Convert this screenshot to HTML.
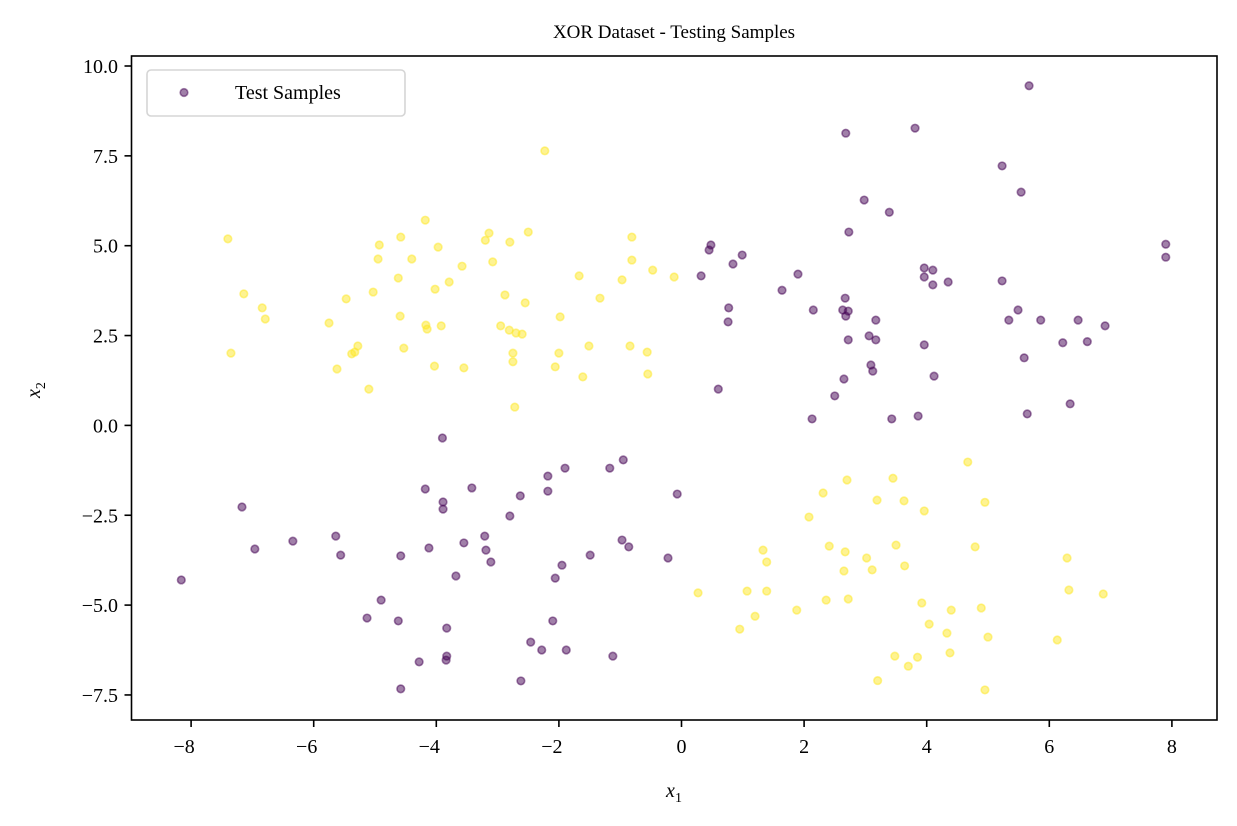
<!DOCTYPE html>
<html><head><meta charset="utf-8"><style>
body{margin:0;background:#fff;}
svg text{font-family:"Liberation Serif","DejaVu Serif",serif;fill:#000;}
</style></head><body>
<svg id="chart" width="1237" height="821" xmlns="http://www.w3.org/2000/svg">
<rect width="1237" height="821" fill="#fff"/>
<text x="674" y="38" font-size="19" text-anchor="middle">XOR Dataset - Testing Samples</text>
<g id="marks"></g>
<g id="axes"></g>
<rect x="131.5" y="56" width="1085.5" height="664" fill="none" stroke="#000" stroke-width="1.6"/>
<g>
<rect x="147" y="70" width="258" height="46" rx="4" fill="#fff" fill-opacity="0.8" stroke="#d5d5d5" stroke-width="1.6"/>
<circle cx="184" cy="92.5" r="3.8" fill="#440154" fill-opacity="0.5" stroke="#440154" stroke-opacity="0.5" stroke-width="1.6"/>
<text x="235" y="99" font-size="20">Test Samples</text>
</g>
<text x="674" y="797" font-size="20" font-style="italic" text-anchor="middle">x<tspan font-size="14" dy="5" font-style="normal">1</tspan></text>
<text transform="translate(40,390) rotate(-90)" font-size="20" font-style="italic" text-anchor="middle">x<tspan font-size="14" dy="5" font-style="normal">2</tspan></text>
</svg>
<script>
const xTicks=[-8,-6,-4,-2,0,2,4,6,8];
const yTicks=[-7.5,-5.0,-2.5,0.0,2.5,5.0,7.5,10.0];
const class0X=[5.67,2.68,3.81,5.23,5.54,2.98,3.39,2.73,0.48,0.45,0.99,0.32,0.84,1.64,1.90,5.23,3.96,3.96,4.10,4.35,4.10,2.67,0.77,0.76,2.15,2.63,2.68,2.72,3.17,5.49,5.34,5.86,6.47,3.17,3.06,2.72,3.96,6.22,6.62,6.91,5.59,3.09,3.12,2.65,0.60,4.12,2.50,2.13,3.43,3.86,5.64,6.34,7.90,7.90,
-8.16,-7.17,-6.96,-6.34,-5.64,-5.56,-4.90,-5.13,-4.62,-4.58,-4.58,-4.28,-4.18,-4.12,-3.90,-3.89,-3.89,-3.84,-3.83,-3.83,-3.68,-3.55,-3.21,-3.19,-3.11,-3.42,-2.80,-2.63,-2.18,-2.18,-1.90,-2.06,-2.10,-1.88,-2.46,-2.28,-2.62,-1.95,-1.49,-1.17,-1.12,-0.95,-0.97,-0.86,-0.22,-0.07];
const class0Y=[9.45,8.13,8.27,7.22,6.49,6.27,5.93,5.38,5.02,4.88,4.74,4.16,4.49,3.76,4.21,4.02,4.38,4.13,4.32,3.99,3.91,3.54,3.27,2.88,3.21,3.21,3.04,3.18,2.93,3.21,2.93,2.93,2.93,2.38,2.49,2.38,2.24,2.30,2.33,2.77,1.88,1.68,1.51,1.29,1.01,1.37,0.82,0.18,0.18,0.26,0.32,0.60,5.04,4.68,
-4.30,-2.27,-3.44,-3.22,-3.08,-3.61,-4.86,-5.36,-5.44,-3.63,-7.33,-6.58,-1.77,-3.41,-0.35,-2.13,-2.33,-6.53,-6.42,-5.64,-4.19,-3.27,-3.08,-3.47,-3.80,-1.74,-2.52,-1.96,-1.41,-1.83,-1.19,-4.25,-5.44,-6.25,-6.03,-6.25,-7.11,-3.89,-3.61,-1.19,-6.42,-0.96,-3.19,-3.38,-3.69,-1.91];
const class1X=[-2.23,-7.40,-7.14,-7.35,-6.84,-6.79,-5.75,-5.62,-5.38,-5.33,-5.28,-5.10,-5.47,-4.93,-4.95,-5.03,-4.40,-4.62,-4.58,-4.59,-4.53,-4.18,-4.17,-4.15,-4.02,-3.97,-3.92,-3.79,-4.03,-3.58,-3.55,-3.14,-3.08,-2.88,-2.80,-2.95,-2.81,-2.70,-2.75,-2.75,-2.72,-2.60,-2.50,-2.55,-2.06,-1.98,-2.00,-1.67,-1.61,-1.51,-1.33,-0.97,-0.81,-0.81,-0.84,-0.56,-0.55,-0.47,-0.12,-3.20,
0.27,0.95,1.07,1.20,1.33,1.39,1.39,1.88,2.08,2.31,2.41,2.36,2.65,2.67,2.72,2.70,3.02,3.11,3.19,3.45,3.50,3.63,3.64,3.20,3.70,3.85,3.48,3.92,3.96,4.04,4.33,4.40,4.38,4.67,4.79,4.95,4.89,5.00,4.95,6.13,6.29,6.32,6.88];
const class1Y=[7.64,5.19,3.66,2.01,3.27,2.96,2.85,1.57,1.99,2.04,2.21,1.01,3.52,5.02,4.63,3.71,4.63,4.10,5.24,3.04,2.15,5.71,2.79,2.68,3.79,4.96,2.77,3.99,1.65,4.43,1.60,5.35,4.55,3.63,5.10,2.77,2.65,2.57,2.01,1.77,0.51,2.54,5.38,3.41,1.63,3.02,2.01,4.16,1.35,2.21,3.54,4.05,5.24,4.60,2.21,2.04,1.43,4.32,4.13,5.15,
-4.66,-5.67,-4.61,-5.31,-3.47,-3.80,-4.61,-5.14,-2.55,-1.88,-3.36,-4.86,-4.05,-3.52,-4.83,-1.52,-3.69,-4.02,-2.08,-1.47,-3.33,-2.10,-3.91,-7.10,-6.70,-6.45,-6.42,-4.94,-2.38,-5.53,-5.78,-5.14,-6.33,-1.02,-3.38,-2.14,-5.08,-5.89,-7.36,-5.97,-3.69,-4.58,-4.69];

const NS="http://www.w3.org/2000/svg";
const X=v=>681.5+(v)*61.3;
const Y=v=>425.4-(v)*35.94;
const fmt=v=>(v<0?"\u2212":"")+Math.abs(v);
const fmtY=v=>(v<0?"\u2212":"")+Math.abs(v).toFixed(1);
const marks=document.getElementById('marks');
function pts(xs,ys,color,name){
  for(let i=0;i<xs.length;i++){
    const c=document.createElementNS(NS,'circle');
    
    
    c.setAttribute('cx',X(xs[i]));c.setAttribute('cy',Y(ys[i]));c.setAttribute('r',3.8);
    c.setAttribute('fill',color);c.setAttribute('fill-opacity',0.5);
    c.setAttribute('stroke',color);c.setAttribute('stroke-opacity',0.5);c.setAttribute('stroke-width',1.6);
    marks.appendChild(c);
  }
}
pts(class0X,class0Y,'#440154','point-class-0');
pts(class1X,class1Y,'#fde725','point-class-1');
const axes=document.getElementById('axes');
xTicks.forEach(v=>{
  const l=document.createElementNS(NS,'line');
  
  
  l.setAttribute('x1',X(v));l.setAttribute('x2',X(v));l.setAttribute('y1',720);l.setAttribute('y2',727);l.setAttribute('stroke','#000');l.setAttribute('stroke-width',1.6);
  axes.appendChild(l);
  const t=document.createElementNS(NS,'text');
  
  
  t.setAttribute('x',X(v)-(v<0?7:0));t.setAttribute('y',753);t.setAttribute('font-size',20);t.setAttribute('text-anchor','middle');
  t.textContent=fmt(v);axes.appendChild(t);
});
yTicks.forEach(v=>{
  const l=document.createElementNS(NS,'line');
  
  
  l.setAttribute('x1',124.5);l.setAttribute('x2',131.5);l.setAttribute('y1',Y(v));l.setAttribute('y2',Y(v));l.setAttribute('stroke','#000');l.setAttribute('stroke-width',1.6);
  axes.appendChild(l);
  const t=document.createElementNS(NS,'text');
  
  
  t.setAttribute('x',118);t.setAttribute('y',Y(v)+7);t.setAttribute('font-size',20);t.setAttribute('text-anchor','end');
  t.textContent=fmtY(v);axes.appendChild(t);
});
</script>
</body></html>
